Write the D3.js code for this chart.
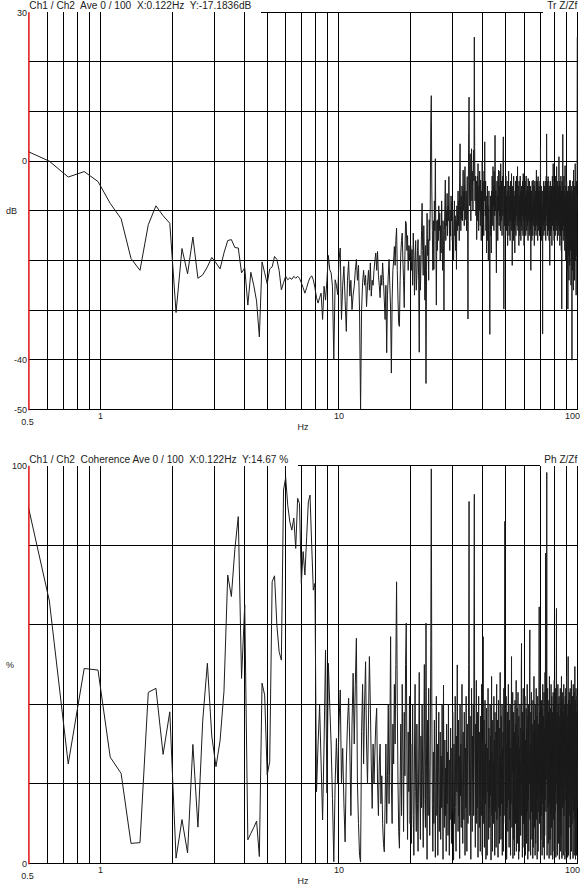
<!DOCTYPE html>
<html>
<head>
<meta charset="utf-8">
<script src="https://cdn.jsdelivr.net/npm/d3@7"></script>
<style>
  html, body { margin: 0; padding: 0; background: #fff; }
  svg { display: block; font-family: "Liberation Sans", Arial, sans-serif; }
  .lbl { font-size: 9px; fill: #222; }
  .ttl { font-size: 10px; fill: #222; white-space: pre; }
</style>
</head>
<body>
<svg id="chart" width="584" height="887"></svg>
<script>
// spectrum bins: f = (firstBin + i) * freqStep
const freqStep = 0.12207;
const firstBin = 4;

const freqGrid = [0.6, 0.7, 0.8, 0.9, 1, 2, 3, 4, 5, 6, 7, 8, 9, 10, 20, 30, 40, 50, 60, 70, 80, 90, 100];
const freqLabels = [0.5, 1, 10, 100];
const dbGrid = [20, 10, 0, -10, -20, -30, -40];
const dbLabels = [30, 0, -40, -50];
const pctGrid = [80, 60, 40, 20];
const pctLabels = [100, 0];

// Tr Z/Zf, dB
const transferDb = [
  2.1, 0, -3.2, -2.1, -4.1, -8.5, -11.6, -19.6, -22.0, -12.8,
  -9.0, -11.0, -12.5, -30.5, -17.6, -22.7, -15.3, -23.6, -22.9, -21.3,
  -19.4, -20.5, -21.7, -18.5, -16.0, -15.8, -17.4, -17.5, -22.5, -21.5,
  -29.0, -22.4, -25.0, -28.2, -35.4, -20.3, -22.5, -24.7, -21.7, -21.3,
  -19.2, -19.8, -22.0, -25.9, -24.5, -23.2, -23.9, -23.5, -23.8, -23.2,
  -23.6, -23.2, -23.6, -24.5, -25.5, -26.6, -25.5, -24.3, -23.5, -23.1,
  -23.9, -25.5, -27.5, -28.6, -27.5, -26.6, -31.9, -25.2, -28.0, -24.0,
  -19.0, -21.9, -22.5, -25.2, -40.0, -23.9, -25.0, -26.9, -20.0, -17.5,
  -31.9, -25.0, -21.2, -28.0, -34.3, -24.0, -20.2, -27.2, -24.0, -29.9,
  -27.0, -25.2, -22.0, -19.8, -24.0, -21.0, -30.0, -50.0, -30.0, -24.5,
  -22, -25, -23, -29.3, -25, -22, -26, -20.5, -27.2, -24,
  -25, -22, -20, -18.5, -22, -18.2, -23, -25, -27.5, -23,
  -25, -20.5, -24, -28, -31.9, -25, -38.6, -27, -23, -19.8,
  -25, -30, -42.7, -28, -22, -20, -17.2, -21, -16, -13.5,
  -22, -28, -32.8, -33.3, -24, -18.5, -16, -14.5, -20, -24,
  -29.5, -19, -12.1, -12.5, -18, -15, -22, -17, -20, -17,
  // 20 Hz
  -17, -22, -17.8, -25, -14.5, -19, -27, -20, -16, -26,
  -23, -18, -15.8, -24, -38.5, -19, -26, -21, -14, -8.5,
  -18, -23, -13, -20, -28, -17, -44.8, -22, -10.5, -19,
  -15.8, -24, -11.8, -16, -9, 8, 13.2, -6, -14,
  -22, -12, -21.8, -8, -14, 0.5, -16, -29, -12, -18,
  -11.8, -16, -9, -14, -10.5, -20, -13, -18.5, -8, -15,
  -22, -12, -17, -30, -14, -9, -3.8, -16, -10, -13,
  -6.5, -15, -9, -12, -3.1, -11, -18, -10, -15.1, -7,
  -12, -8.2, -16, -10, -13, -20, -14.5, -8, -15, -11,
  -18, -12, -21.8, -9, -14, -10, -6, -13, -8, -16,
  -3, 3.5, -9, -14, -7, -11.8, -5, -12, -8, -1.8,
  -10, -6, -13, -3, -1.1, -9, -11.8, -6, -14, -8,
  -3.1, -12, -31.8, -5, 6, 12.9, -4, -9, 1.5, -6,
  -12, -3, 2.5, -8, -2, -5.1, -10, -1, 2.2, -4,
  25, 3, -8, -3, -6.5, -11, -4, -15.8, -8, -3,
  -12, -0.5, -7, -14, -5, -10, -2, -9, -13, -3.8,
  -8, -16, -6, -11, 0, -7, -13, -4, -10, -15,
  -2, -8, 3.9, -6, -11, -4, -14, -9, -18.5, -7,
  -12, -5, -16, -9, -20, -11, -6, -14, -24, -34.9,
  -12, -7, -15, -10, -18.5, -6, -11, -3, -8, -13,
  -1.1, -9, -5, -14, -2, -8, -11, 5.2, -3, -10,
  -6, -15, -22.5, -9, -4, -12, -7, -16, -3, -10,
  -1.8, -8, -13, -5, -11, -2, -9, -14, -0.5, -6,
  -12, -4, -9, -15, -7, -3, -11, 0, 4.9, -6,
  -29.8, -10, -5, -13,
  -5, -12, -8, -15, -3, -10, -7, -14, -9, -4,
  -11, -17, -6, -13, -8, -2, -10, -15, -7, -12,
  -5, -16, -9, -4, -12, -8, -14, -2.5, -10, -6,
  -21, -9, -5, -13, -8, -16, -3, -11, -7, -14,
  -9, -18.5, -6, -12, -4, -10, -15, -7, -11, -3,
  -9, -13, -6, -1.1, -10, -14, -5, -12, -8, -17,
  -4, -11, -7, -15, -9, -3, -12, -6, -16, -8,
  -13, -5, -10, -14, -7, -11, -4, -9, -15, -2.5,
  -8, -12, -5, -17, -9, -6, -13, -10, -4, -11,
  -7, -15, -9, -3, -12, -6, -14, -8, -11, -5,
  -13, -9, -16, -3.5, -8, -12, -6, -10, -15, -4,
  -11, -7, -14, -9, -5, -12, -22, -8, -13, -6,
  -10, -16, -7, -4, -12, -9, -15, -6, -3.8, -11,
  -8, -13, -5, -10, -17, -7, -12, -4, -9, -14,
  -6, -11, -8, -15, -5, -1.8, -10, -13, -7, -12,
  -4, -9, -16, -8, -3.1, -11, -6, -14, -10, -5,
  -12, -8, -15, -6, -10, -4, -13, 2.9, -9, -7,
  -14, -5, -11, -8, -16, -6, -12, -9, -18, -34.8,
  -10, -6, -13, -8, -4, -11, -15, -7, -12, -5,
  -9, -14, -6.5, -10, -4, -12, -8, -16, -6, -11,
  -3, -9, 5.5, -7, -13, -5, -10, -15, -8, -4,
  -12, -3.1, -9, -14, -6, -11, -8, -16, -5, -12,
  -9, -21, -7, -13, -4, -10, -15, -6, -11, -8,
  -14, -5, -12, -9, -17, -6, -10, -3, -13, -8,
  -11, -7, -0.5, -10, -14, -5, -12, -8, -16, -6,
  -9, -13, -4, -11, -7, -15, -6, -10, -3, -12,
  -8, -14, -5, -10, -1.1, -9, -13, -6, -11, -16,
  -7, -4, -12, -9, -15, -5, -10, -8, -13, 0.9,
  -6, -11, -14, -4, -9, -17, -7, -12, -5, -10,
  -15, -8, -3, -13, -9, -18, -6, -11, -29.8, -10,
  -4, -12, -7, -14, -9, 5.4, -6, -11, -16, -5,
  -10, -13, -7, -3, -12, -8, -15, -6, -11, -18,
  -4, -0.9, -9, -14, -7, -12, -20, -5, -10, -16,
  -8, -13, -4, -11, -17, -7, -22, -9, -14, -6,
  -12, -29.8, -8, -15, -5, -11, -19, -7, -13, -24,
  -6, -10, -16, -9, -21, -4, -12, -3.8, -15, -8,
  -18, -6, -11, -14, -25, -9, -5, -13, -20, -7,
  -16, -40.1, -10, -6, -22, -12, -8, -17, -4, -13,
  -19, -9, -26, -1.8, -11, -15, -7, -21, -12, -5,
  -14, -24, -8, -10, -18, -6, -0.5, -13, -20, -9,
  -16, -5, -12, -27, -8, -15, -4, -11, -19, -7,
  -10, 8, 25
];

// coherence, %
const coherencePct = [
  92, 66, 25, 49, 48.6, 26.7, 22.6, 5, 5.2, 43,
  44, 27.4, 38.1, 1.3, 11, 2.6, 29.9, 9.1, 36, 50.3,
  32, 24.3, 30.8, 43.2, 72.5, 67.1, 79, 87.2, 46.5, 65,
  5.9, 7.5, 9, 10.6, 1.7, 45.3, 42.3, 22.2, 25.6, 70.8,
  72.3, 60, 53.2, 51.1, 93.9, 97, 90, 85.9, 83.8, 86.8,
  79.2, 91.8, 90.5, 70.4, 78.4, 72.5, 82, 90.9, 92.6, 80,
  68.7, 70.4, 18, 30, 39.8, 25, 10.9, 30, 53.6, 17.7,
  50.3, 40, 30, 16.3, 0.4, 20, 31.4, 20, 35, 43.6,
  20, 28.9, 15, 5.4, 25, 35, 41.5, 30, 12, 35,
  47.8, 30, 45, 56.6, 20, 10, 2, 0.3, 33.1, 45,
  25, 40, 50.7, 30, 20, 35, 52, 40, 25, 13.8,
  30, 20, 28, 35, 39, 20, 12, 25, 30, 15,
  22, 10, 5, 2.9, 15, 30, 10, 22, 40, 15,
  30, 57, 20, 10, 35, 25, 45, 30, 50, 70.8,
  40, 20, 8, 3.8,
  20, 35, 12, 45, 28, 8, 38, 22, 50, 60.4, 25, 6, 33, 18, 42, 10,
  // 20 Hz
  30, 5, 22, 40, 12, 2, 28, 45, 18, 8, 35, 15, 3, 25, 48, 20, 6, 32,
  14, 40, 22, 4, 30, 50, 16, 9, 60.4, 24, 1, 36, 12, 44, 20, 7, 28, 55,
  99.2,
  40, 15, 3, 28, 10, 36, 18, 1.5, 25, 42,
  12, 30, 2, 22, 38, 8, 16, 33, 6, 27,
  14, 40, 20, 1, 44.8, 18, 9, 31, 12, 24,
  3, 35, 15, 28, 7, 40, 19, 2, 26, 11,
  34, 16, 5, 29, 13, 38, 21, 0.8, 30, 10,
  25, 42, 14, 3, 32, 18, 49.9, 22, 8, 36,
  12, 27, 1.2, 40, 17, 30, 9, 23, 45, 15,
  5, 33, 20, 11, 38, 26, 2, 29, 14, 42,
  19, 3, 35, 24, 10, 30, 50, 91, 28, 12,
  37, 18, 1, 26, 44, 15, 8, 32, 21, 40,
  12, 60, 92.8, 30, 16, 4, 35, 22, 46, 10,
  28, 14, 38, 1.5, 24, 42, 18, 9, 33, 26,
  3, 37, 20, 12, 45, 28, 2, 31, 16, 57,
  22, 10, 36, 4, 27, 41, 15, 30, 1, 24,
  39, 13, 2, 29, 18, 44, 21, 6, 34, 14,
  26, 9, 40, 17, 32, 0.8, 23, 47, 12, 28,
  3, 36, 19, 25, 10, 42, 15, 31, 2, 38,
  20, 13, 33, 4, 27, 45, 11, 22, 36, 16,
  1.5, 30, 41, 14, 25, 5, 34, 19, 48, 12,
  27, 6, 37, 21, 15, 40, 2, 29, 18, 33,
  3, 24, 44, 12, 31, 60, 86, 20, 10, 35,
  17, 42, 26, 1, 30, 14, 38, 22, 8, 33,
  45, 16, 27, 4, 36, 19, 11, 40, 24, 2,
  29, 15, 35, 52, 18, 9, 31, 23, 43, 1.2,
  26, 6, 38, 20, 14, 33, 2, 28, 41, 17,
  10, 35, 24, 46, 3, 30, 8, 39, 21, 5,
  27, 43, 16, 32, 1, 37, 22, 3, 29, 18,
  40, 14, 25, 7, 34, 20, 48, 55.3, 12, 30,
  23, 1.5, 38, 17, 28, 44, 10, 33, 21, 4,
  36, 15, 27, 42, 19, 2, 31, 24, 12, 39,
  26, 5, 34, 18, 45, 13, 29, 1, 37, 22,
  16, 40, 3, 28, 20, 35, 50, 58.7, 11, 30,
  24, 2, 38, 17, 32, 43, 13, 26, 6, 35,
  21, 29, 1.2, 41, 18, 4, 33, 25, 47, 15,
  9, 36, 22, 30, 2, 40, 27, 5, 34, 19,
  44, 11, 28, 23, 37, 1, 31, 16, 42, 25,
  3, 35, 20, 29, 13, 50, 64.5, 24, 10, 38,
  18, 32, 46, 1.5, 27, 6, 36, 21, 41, 12,
  30, 24, 2, 39, 17, 33, 45, 15, 26, 4,
  37, 22, 11, 43, 28, 1, 34, 7, 31, 48,
  16, 40, 78, 25, 13, 36, 21, 30, 60, 98.3,
  20, 2, 35, 27, 44, 14, 32, 23, 5, 38,
  26, 18, 41, 1.2, 29, 47, 15, 34, 22, 6,
  39, 28, 12, 36, 2, 45, 17, 31, 9, 42,
  24, 33, 14, 38, 27, 1, 35, 21, 43, 16,
  30, 11, 40, 25, 3, 46, 8, 33, 22, 37,
  13, 29, 44, 18, 34, 1.5, 27, 41, 50, 64.1,
  20, 32, 15, 38, 24, 2, 36, 28, 45, 17,
  31, 5, 40, 23, 35, 14, 42, 26, 1, 33,
  19, 37, 28, 12, 44, 22, 30, 3, 39, 7,
  34, 25, 47, 18, 29, 1.2, 41, 24, 36, 14,
  27, 43, 20, 32, 2, 38, 23, 15, 45, 30,
  12, 36, 26, 40, 19, 33, 1, 29, 42, 21,
  35, 16, 44, 25, 3, 38, 28, 47, 18, 31,
  22, 40, 13, 34, 27, 1.5, 37, 20, 45, 52,
  24, 32, 2, 41, 29, 9, 36, 23, 43, 17,
  30, 38, 12, 26, 44, 1, 33, 7, 40, 25,
  35, 18, 28, 46, 3, 31, 22, 39, 10, 34,
  27, 42, 16, 37, 24, 1.2, 33, 45, 20, 29,
  38, 13, 30, 43, 2, 35, 11, 40, 26, 49.5,
  18, 32, 24, 41, 1, 36, 28, 15, 44, 21,
  33, 27, 2, 38, 19, 30, 42, 14, 25
];

const svg = d3.select('#chart');
const x = d3.scaleLog().domain([0.5, 100]).range([28.7, 577.3]);
const crisp = v => Math.floor(v) + 0.5;

function toPoints(values) {
  return values.map((v, i) => ({ f: (firstBin + i) * freqStep, v }));
}

function drawPanel({ id, top, bottom, domain, grid, labels, unit, unitAt, values, title, titleLen, tag, tagLen }) {
  const y = d3.scaleLinear().domain(domain).range([bottom, top]);
  const g = svg.append('g');
  const left = x.range()[0];
  const right = x.range()[1];

  g.append('clipPath')
    .attr('id', id)
    .append('rect')
    .attr('x', left)
    .attr('y', top - 1)
    .attr('width', right - left + 1)
    .attr('height', bottom - top + 2);

  // horizontal grid
  g.append('g')
    .selectAll('line')
    .data(grid)
    .join('line')
    .attr('x1', left)
    .attr('x2', right)
    .attr('y1', d => crisp(y(d)))
    .attr('y2', d => crisp(y(d)))
    .attr('stroke', '#000')
    .attr('shape-rendering', 'crispEdges');

  // vertical grid
  g.append('g')
    .selectAll('line')
    .data(freqGrid)
    .join('line')
    .attr('x1', d => crisp(x(d)))
    .attr('x2', d => crisp(x(d)))
    .attr('y1', top)
    .attr('y2', bottom)
    .attr('stroke', '#000')
    .attr('shape-rendering', 'crispEdges');

  // bottom frame
  g.append('line')
    .attr('x1', left)
    .attr('x2', right + 1)
    .attr('y1', crisp(bottom))
    .attr('y2', crisp(bottom))
    .attr('stroke', '#000')
    .attr('shape-rendering', 'crispEdges');

  const line = d3
    .line()
    .x(d => x(d.f))
    .y(d => y(d.v));

  g.append('path')
    .datum(toPoints(values))
    .attr('clip-path', `url(#${id})`)
    .attr('fill', 'none')
    .attr('stroke', '#1c1c1c')
    .attr('stroke-width', 1)
    .attr('stroke-linejoin', 'miter')
    .attr('d', line);

  // red y axis
  g.append('line')
    .attr('x1', 28.9)
    .attr('x2', 28.9)
    .attr('y1', top)
    .attr('y2', bottom + 1)
    .attr('stroke', '#dd0000')
    .attr('stroke-width', 1.4);

  // y labels
  g.append('g')
    .selectAll('text')
    .data(labels)
    .join('text')
    .attr('class', 'lbl')
    .attr('x', 27)
    .attr('y', d => y(d))
    .attr('dy', '0.36em')
    .attr('text-anchor', 'end')
    .text(d => d);

  g.append('text')
    .attr('class', 'lbl')
    .attr('x', 6)
    .attr('y', y(unitAt))
    .attr('dy', '0.36em')
    .text(unit);

  // x labels
  g.append('g')
    .selectAll('text')
    .data(freqLabels)
    .join('text')
    .attr('class', 'lbl')
    .attr('x', d => (d === 100 ? 580 : x(d) - (d === 0.5 ? 1.2 : 0)))
    .attr('y', d => bottom + (d === 0.5 ? 15.5 : 9.2))
    .attr('text-anchor', d => (d === 100 ? 'end' : 'middle'))
    .text(d => d);

  g.append('text')
    .attr('class', 'lbl')
    .attr('x', (left + right) / 2)
    .attr('y', bottom + 20.8)
    .attr('text-anchor', 'middle')
    .text('Hz');

  // titles and partial top frame
  g.append('text')
    .attr('class', 'ttl')
    .attr('x', 29.3)
    .attr('y', top - 3)
    .attr('textLength', titleLen)
    .attr('lengthAdjust', 'spacingAndGlyphs')
    .text(title);

  g.append('text')
    .attr('class', 'ttl')
    .attr('x', right)
    .attr('y', top - 3)
    .attr('text-anchor', 'end')
    .attr('textLength', tagLen)
    .attr('lengthAdjust', 'spacingAndGlyphs')
    .text(tag);

  g.append('line')
    .attr('x1', 29.3 + titleLen + 10)
    .attr('x2', right - tagLen - 4)
    .attr('y1', crisp(top))
    .attr('y2', crisp(top))
    .attr('stroke', '#000')
    .attr('shape-rendering', 'crispEdges');
}

drawPanel({
  id: 'clip-tr',
  top: 12.3,
  bottom: 409.3,
  domain: [-50, 30],
  grid: dbGrid,
  labels: dbLabels,
  unit: 'dB',
  unitAt: -10,
  values: transferDb,
  title: 'Ch1 / Ch2  Ave 0 / 100  X:0.122Hz  Y:-17.1836dB',
  titleLen: 222,
  tag: 'Tr Z/Zf',
  tagLen: 30,
});

drawPanel({
  id: 'clip-coh',
  top: 465.7,
  bottom: 863.3,
  domain: [0, 100],
  grid: pctGrid,
  labels: pctLabels,
  unit: '%',
  unitAt: 50,
  values: coherencePct,
  title: 'Ch1 / Ch2  Coherence Ave 0 / 100  X:0.122Hz  Y:14.67 %',
  titleLen: 259,
  tag: 'Ph Z/Zf',
  tagLen: 33,
});
</script>
</body>
</html>
